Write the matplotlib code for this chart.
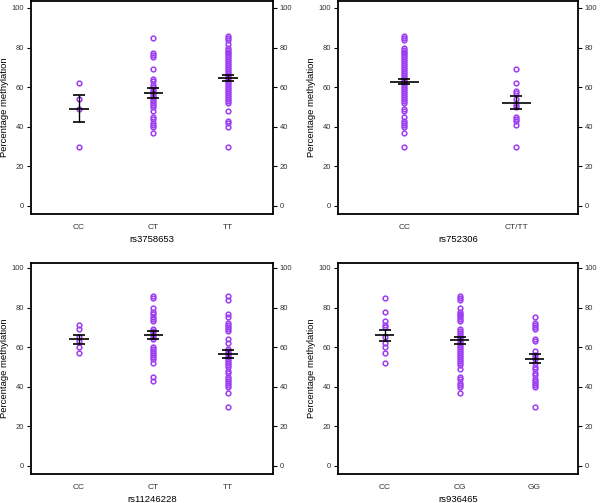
import matplotlib
matplotlib.use("Agg")
import matplotlib.pyplot as plt
import numpy as np

plt.rcParams['font.family'] = ['Liberation Sans', 'DejaVu Sans']

purple = '#9d3cf0'

# ---- data ----
snp1 = 'rs3758653'
snp1_groups = ['CC', 'CT', 'TT']
snp1_CC = [62, 54, 49, 30]
snp1_CT = [85, 77, 76, 75, 69, 64, 63, 61, 60, 59, 58, 57, 56, 55, 54, 53, 52, 51, 50, 48,
           45, 44, 42, 41, 40, 37]
snp1_TT = [86, 85, 84, 82, 80, 79, 78, 77, 76, 75, 74, 73, 72, 71, 70, 69, 68, 67, 66, 65,
           64, 63, 62, 61, 60, 59, 58, 57, 56, 55, 54, 53, 52, 48, 43, 42, 40, 30]
snp1_mean = [49, 57, 64.5]
snp1_sem = [6.8, 2.4, 1.5]

snp2 = 'rs752306'
snp2_groups = ['CC', 'CT/TT']
snp2_CC = [86, 85, 84, 80, 79, 78, 77, 76, 75, 74, 73, 72, 71, 70, 69, 68, 67, 66, 65, 64,
           63, 62, 61, 60, 59, 58, 57, 56, 55, 54, 53, 52, 49, 48, 45, 43, 42, 41, 40, 37, 30]
snp2_CTTT = [69, 62, 58, 57, 54, 51, 50, 45, 44, 43, 41, 30]
snp2_mean = [62.7, 52.2]
snp2_sem = [1.3, 3.3]

snp3 = 'rs11246228'
snp3_groups = ['CC', 'CT', 'TT']
snp3_CC = [71, 69, 65, 63, 60, 57]
snp3_CT = [86, 85, 80, 78, 77, 75, 74, 73, 69, 68, 67, 66, 65, 64, 60, 59, 58, 57, 56, 55,
           54, 52, 45, 43]
snp3_TT = [86, 84, 77, 75, 72, 71, 70, 69, 68, 64, 62, 59, 58, 57, 56, 55, 54, 53, 52, 51,
           50, 48, 47, 45, 44, 43, 42, 41, 40, 37, 30]
snp3_mean = [64, 66, 56.5]
snp3_sem = [2.2, 2.0, 2.0]

snp4 = 'rs936465'
snp4_groups = ['CC', 'CG', 'GG']
snp4_CC = [85, 78, 73, 71, 70, 65, 62, 60, 57, 52]
snp4_CG = [86, 85, 84, 80, 78, 77, 76, 75, 74, 73, 69, 68, 67, 66, 65, 64, 63, 62, 61, 60,
           59, 58, 57, 56, 55, 54, 53, 52, 51, 49, 45, 44, 42, 41, 40, 37]
snp4_GG = [75, 72, 71, 70, 69, 64, 63, 58, 56, 55, 54, 52, 50, 49, 47, 46, 44, 43, 42, 41,
           40, 30]
snp4_mean = [66, 63.4, 54.2]
snp4_sem = [2.7, 1.7, 2.2]

yticks = [0, 20, 40, 60, 80, 100]

fig = plt.figure(figsize=(6.0, 5.03), dpi=100)

panels = [
    (snp1, snp1_groups, [snp1_CC, snp1_CT, snp1_TT], snp1_mean, snp1_sem,
     [31/600, 1-214/503, 242/600, 213/503], (-0.64, 2.6), (-4.04, 103.5)),
    (snp2, snp2_groups, [snp2_CC, snp2_CTTT], snp2_mean, snp2_sem,
     [338/600, 1-214/503, 240/600, 213/503], (-0.59, 1.55), (-4.04, 103.5)),
    (snp3, snp3_groups, [snp3_CC, snp3_CT, snp3_TT], snp3_mean, snp3_sem,
     [31/600, 1-474/503, 242/600, 211/503], (-0.64, 2.6), (-4.04, 102.5)),
    (snp4, snp4_groups, [snp4_CC, snp4_CG, snp4_GG], snp4_mean, snp4_sem,
     [338/600, 1-474/503, 240/600, 211/503], (-0.62, 2.58), (-4.04, 102.5)),
]

for name, groups, vals, means, sems, rect, xl, yl in panels:
    ax = fig.add_axes(rect)
    for i, v in enumerate(vals):
        ax.plot(np.full(len(v), i), v, 'o', mfc='none', mec=purple, ms=3.4, mew=1.1,
                zorder=2)
    x = np.arange(len(groups))
    ax.errorbar(x, means, yerr=sems, fmt='none', ecolor='black', elinewidth=1.0,
                capsize=4, capthick=1.2, zorder=3)
    ax.hlines(means, x - 0.13, x + 0.13, colors='black', lw=1.2, zorder=3)
    ax.set_xlim(*xl)
    ax.set_ylim(*yl)
    ax.set_xticks(x)
    ax.set_xticklabels(groups, fontsize=6, color='#333333')
    ax.set_yticks(yticks)
    ax.tick_params(axis='x', length=0, pad=7)
    ax.tick_params(axis='y', which='both', direction='out', length=3, width=0.8,
                   labelsize=5.5, labelcolor='#333333', left=True, right=True,
                   labelleft=True, labelright=True, pad=2)
    for s in ax.spines.values():
        s.set_linewidth(1.3)
    ax.set_ylabel('Percentage methylation', fontsize=6.8, labelpad=2)
    ax.set_xlabel(name, fontsize=6.8, labelpad=3)

fig.savefig('out.png', dpi=100)
